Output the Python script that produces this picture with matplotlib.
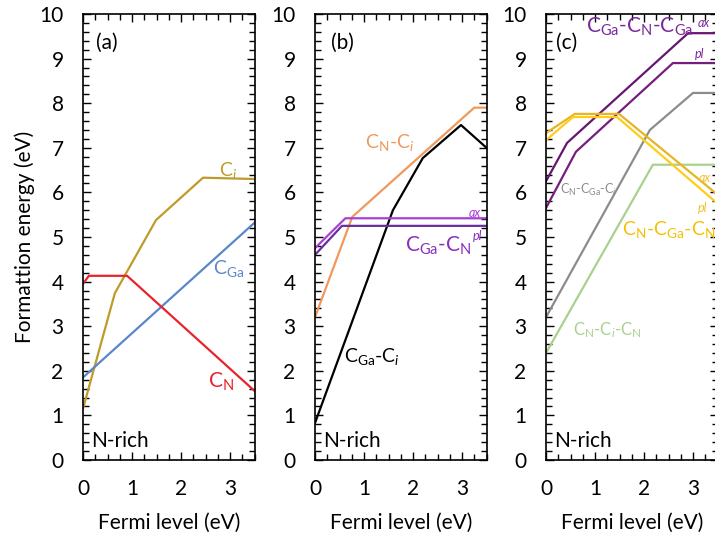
import matplotlib
matplotlib.use("Agg")
import matplotlib.pyplot as plt
from matplotlib.ticker import MultipleLocator

plt.rcParams["font.family"] = ["Lato", "DejaVu Sans"]
plt.rcParams["mathtext.fontset"] = "custom"
plt.rcParams["mathtext.rm"] = "Lato"
plt.rcParams["mathtext.it"] = "Lato:italic"

# -----------------------------
# DATA (Fermi level in eV, formation energy in eV)
# -----------------------------
# panel (a): single defects
ci_x = [0, 0.65, 1.49, 2.45, 3.5]
ci_y = [1.15, 3.74, 5.38, 6.33, 6.3]
cga_x = [0, 0.12, 3.5]
cga_y = [1.85, 1.97, 5.32]
cn_x = [0, 0.12, 0.9, 3.5]
cn_y = [3.95, 4.13, 4.13, 1.55]

# panel (b): pairs
cnci_x = [0, 0.76, 3.25, 3.5]
cnci_y = [3.2, 5.45, 7.9, 7.9]
cgaci_x = [0, 1.59, 2.2, 2.98, 3.5]
cgaci_y = [0.83, 5.6, 6.77, 7.51, 7.0]
cgacn_ax_x = [0, 0.62, 3.5]
cgacn_ax_y = [4.75, 5.42, 5.42]
cgacn_pl_x = [0, 0.55, 3.5]
cgacn_pl_y = [4.6, 5.25, 5.25]

# panel (c): triples
cgacncga_ax_x = [0, 0.43, 2.9, 3.5]
cgacncga_ax_y = [6.25, 7.11, 9.57, 9.57]
cgacncga_pl_x = [0, 0.61, 2.59, 3.5]
cgacncga_pl_y = [5.65, 6.91, 8.9, 8.9]
cncgaci_x = [0, 2.12, 3.0, 3.5]
cncgaci_y = [3.2, 7.4, 8.23, 8.23]
cncicn_x = [0, 2.18, 3.5]
cncicn_y = [2.4, 6.62, 6.62]
cncgacn_ax_x = [0, 0.59, 1.49, 3.5]
cncgacn_ax_y = [7.33, 7.76, 7.76, 5.95]
cncgacn_pl_x = [0, 0.55, 1.45, 3.5]
cncgacn_pl_y = [7.17, 7.69, 7.69, 5.75]

# -----------------------------
# FIGURE
# -----------------------------
fig = plt.figure(figsize=(7.15, 5.37), dpi=100)
W, H = 715, 537
lefts = [83, 315, 546]
axes = []
for l in lefts:
    ax = fig.add_axes([l / W, 1 - 460 / H, 171.5 / W, 446 / H])
    axes.append(ax)

fs = 15
for ax in axes:
    ax.set_xlim(0, 3.5)
    ax.set_ylim(0, 10)
    ax.xaxis.set_major_locator(MultipleLocator(1))
    ax.xaxis.set_minor_locator(MultipleLocator(0.25))
    ax.yaxis.set_major_locator(MultipleLocator(1))
    ax.yaxis.set_minor_locator(MultipleLocator(0.2))
    ax.tick_params(which="both", direction="in", top=True, right=True,
                   labelsize=fs, pad=14, width=1)
    ax.tick_params(which="major", length=6)
    ax.tick_params(which="minor", length=4)
    for s in ax.spines.values():
        s.set_linewidth(1.2)
    ax.set_xlabel("Fermi level (eV)", fontsize=fs, labelpad=10)
    ax.text(0.16, 0.42, "N-rich", fontsize=fs, va="center", ha="left")

lw = 1.6
a, b, c = axes

# panel (a)
a.plot(ci_x, ci_y, color="#BF9B2A", lw=lw)
a.plot(cga_x, cga_y, color="#5A87C9", lw=lw)
a.plot(cn_x, cn_y, color="#E8232A", lw=lw)
a.text(2.96, 6.5, r"C$_{\mathit{i}}$", color="#BF9B2A", fontsize=14, ha="center", va="center")
a.text(2.98, 4.3, r"C$_{\mathrm{Ga}}$", color="#5A87C9", fontsize=14, ha="center", va="center")
a.text(2.82, 1.75, r"C$_{\mathrm{N}}$", color="#E8232A", fontsize=15, ha="center", va="center")
a.text(0.49, 9.35, "(a)", fontsize=fs, ha="center", va="center")
a.set_ylabel("Formattion energy (eV)", fontsize=fs, labelpad=3)

# panel (b)
b.plot(cnci_x, cnci_y, color="#F0995C", lw=lw)
b.plot(cgaci_x, cgaci_y, color="black", lw=lw)
b.plot(cgacn_ax_x, cgacn_ax_y, color="#A83FD6", lw=lw)
b.plot(cgacn_pl_x, cgacn_pl_y, color="#6A2E9E", lw=lw)
b.text(1.52, 7.13, r"C$_{\mathrm{N}}$-C$_{\mathit{i}}$", color="#F0995C", fontsize=14, ha="center", va="center")
b.text(1.17, 2.31, r"C$_{\mathrm{Ga}}$-C$_{\mathit{i}}$", color="black", fontsize=14, ha="center", va="center")
b.text(2.52, 4.8, r"C$_{\mathrm{Ga}}$-C$_{\mathrm{N}}$", color="#8A2FC0", fontsize=15, ha="center", va="center")
b.text(3.26, 5.54, "ax", color="#A83FD6", fontsize=9, style="italic", ha="center", va="center")
b.text(3.32, 5.02, "pl", color="#8A2FC0", fontsize=9, style="italic", ha="center", va="center")
b.text(0.57, 9.35, "(b)", fontsize=fs, ha="center", va="center")

# panel (c)
c.plot(cgacncga_ax_x, cgacncga_ax_y, color="#661670", lw=lw)
c.plot(cgacncga_pl_x, cgacncga_pl_y, color="#761E7E", lw=lw)
c.plot(cncgaci_x, cncgaci_y, color="#8C8C8C", lw=lw)
c.plot(cncicn_x, cncicn_y, color="#A9D18E", lw=lw)
c.plot(cncgacn_ax_x, cncgacn_ax_y, color="#E8B422", lw=lw)
c.plot(cncgacn_pl_x, cncgacn_pl_y, color="#FFCC1A", lw=lw)
c.text(1.9, 9.71, r"C$_{\mathrm{Ga}}$-C$_{\mathrm{N}}$-C$_{\mathrm{Ga}}$", color="#7A2A9A", fontsize=15, ha="center", va="center")
c.text(3.22, 9.8, "ax", color="#7A2A9A", fontsize=9, style="italic", ha="center", va="center")
c.text(3.14, 9.1, "pl", color="#7A2A9A", fontsize=9, style="italic", ha="center", va="center")
c.text(0.86, 6.05, r"C$_{\mathrm{N}}$-C$_{\mathrm{Ga}}$-C$_{\mathit{i}}$", color="#8C8C8C", fontsize=9, ha="center", va="center")
c.text(2.5, 5.16, r"C$_{\mathrm{N}}$-C$_{\mathrm{Ga}}$-C$_{\mathrm{N}}$", color="#F5C000", fontsize=14, ha="center", va="center")
c.text(3.24, 6.32, "ax", color="#F0C030", fontsize=9, style="italic", ha="center", va="center")
c.text(3.2, 5.65, "pl", color="#F0C030", fontsize=9, style="italic", ha="center", va="center")
c.text(1.24, 2.91, r"C$_{\mathrm{N}}$-C$_{\mathit{i}}$-C$_{\mathrm{N}}$", color="#A9D18E", fontsize=12, ha="center", va="center")
c.text(0.43, 9.35, "(c)", fontsize=fs, ha="center", va="center")

fig.savefig("out.png", dpi=100)
